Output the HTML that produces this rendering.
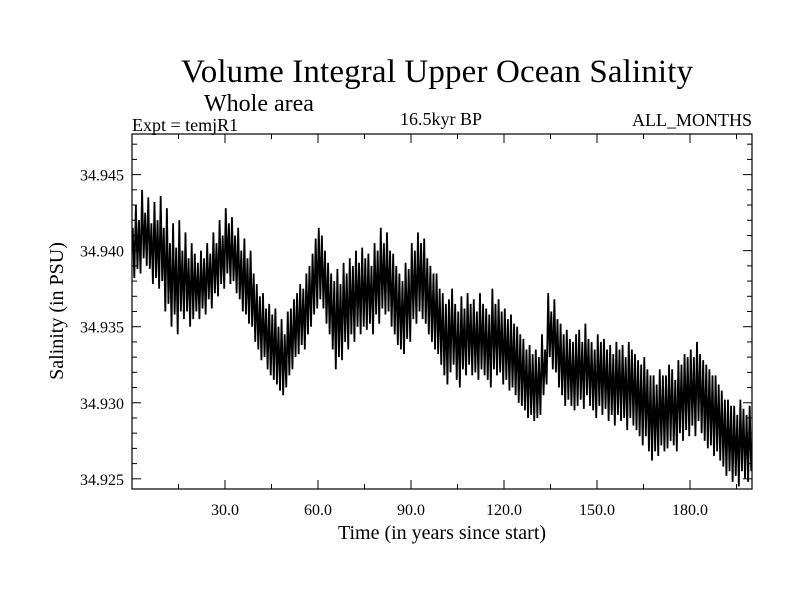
<!DOCTYPE html>
<html><head><meta charset="utf-8"><style>
body{margin:0;background:#fff}
svg text{font-family:"Liberation Serif",serif;fill:#000}
</style></head><body>
<svg id="c" width="800" height="600">
<text x="437" y="82" font-size="33" text-anchor="middle" textLength="512">Volume Integral Upper Ocean Salinity</text>
<text x="204" y="111" font-size="24">Whole area</text>
<text x="132" y="131" font-size="18">Expt = temjR1</text>
<text x="441" y="125" font-size="18" text-anchor="middle">16.5kyr BP</text>
<text x="752" y="126" font-size="18" text-anchor="end">ALL_MONTHS</text>
<text x="442" y="539" font-size="20" text-anchor="middle">Time (in years since start)</text>
<text transform="translate(63,311) rotate(-90)" font-size="20" text-anchor="middle">Salinity (in PSU)</text>
<g id="axes"></g>
<path id="series" fill="none" stroke="#000" stroke-width="1.8"/>
<rect x="132" y="134" width="620" height="355" fill="none" stroke="#000" stroke-width="1.2"/>
</svg>
<script>
const xTicks=[30,60,90,120,150,180];
const xTickLabels=["30.0","60.0","90.0","120.0","150.0","180.0"];
const yTicks=[34.925,34.930,34.935,34.940,34.945];
const yTickLabels=["34.925","34.930","34.935","34.940","34.945"];
const yearMax=[
34.9415,34.9430,34.9420,34.9440,34.9425,34.9435,34.9418,34.9432,34.9420,34.9436,34.9415,34.9428,34.9405,34.9418,34.9402,34.9420,34.9400,34.9412,34.9395,34.9405,
34.9398,34.9392,34.9400,34.9395,34.9405,34.9398,34.9412,34.9405,34.9420,34.9410,34.9428,34.9418,34.9422,34.9410,34.9415,34.9400,34.9408,34.9395,34.9400,34.9385,
34.9378,34.9370,34.9372,34.9362,34.9365,34.9358,34.9362,34.9350,34.9355,34.9345,34.9360,34.9362,34.9368,34.9372,34.9378,34.9375,34.9385,34.9390,34.9398,34.9408,
34.9415,34.9410,34.9400,34.9392,34.9385,34.9380,34.9388,34.9378,34.9392,34.9385,34.9395,34.9390,34.9400,34.9392,34.9402,34.9395,34.9398,34.9390,34.9405,34.9400,
34.9415,34.9405,34.9412,34.9400,34.9398,34.9390,34.9385,34.9380,34.9392,34.9388,34.9405,34.9400,34.9412,34.9405,34.9408,34.9395,34.9390,34.9385,34.9385,34.9375,
34.9372,34.9365,34.9368,34.9375,34.9365,34.9360,34.9370,34.9362,34.9372,34.9365,34.9368,34.9360,34.9372,34.9365,34.9362,34.9358,34.9375,34.9365,34.9368,34.9360,
34.9362,34.9355,34.9358,34.9352,34.9350,34.9345,34.9342,34.9335,34.9338,34.9332,34.9335,34.9330,34.9345,34.9335,34.9372,34.9360,34.9368,34.9355,34.9352,34.9345,
34.9348,34.9342,34.9340,34.9345,34.9348,34.9340,34.9352,34.9342,34.9340,34.9335,34.9345,34.9340,34.9342,34.9335,34.9338,34.9332,34.9340,34.9335,34.9338,34.9330,
34.9340,34.9335,34.9332,34.9328,34.9325,34.9330,34.9322,34.9318,34.9318,34.9312,34.9322,34.9318,34.9318,34.9325,34.9322,34.9315,34.9328,34.9325,34.9332,34.9330,
34.9335,34.9330,34.9340,34.9332,34.9328,34.9325,34.9322,34.9318,34.9318,34.9312,34.9308,34.9302,34.9302,34.9298,34.9298,34.9292,34.9302,34.9296,34.9292,34.9298];
const yearMin=[
34.9382,34.9388,34.9385,34.9395,34.9390,34.9388,34.9378,34.9382,34.9375,34.9380,34.9360,34.9365,34.9350,34.9358,34.9345,34.9360,34.9355,34.9360,34.9350,34.9355,
34.9360,34.9355,34.9362,34.9358,34.9368,34.9362,34.9372,34.9370,34.9378,34.9375,34.9385,34.9378,34.9380,34.9372,34.9368,34.9360,34.9358,34.9352,34.9350,34.9340,
34.9335,34.9328,34.9330,34.9322,34.9318,34.9315,34.9312,34.9308,34.9305,34.9310,34.9318,34.9322,34.9330,34.9332,34.9338,34.9335,34.9345,34.9350,34.9358,34.9362,
34.9368,34.9362,34.9352,34.9345,34.9335,34.9322,34.9330,34.9328,34.9340,34.9335,34.9345,34.9340,34.9350,34.9345,34.9350,34.9348,34.9352,34.9345,34.9358,34.9352,
34.9362,34.9358,34.9360,34.9350,34.9345,34.9338,34.9335,34.9332,34.9342,34.9340,34.9355,34.9352,34.9360,34.9355,34.9352,34.9345,34.9340,34.9335,34.9332,34.9325,
34.9318,34.9312,34.9320,34.9325,34.9315,34.9310,34.9322,34.9318,34.9325,34.9318,34.9320,34.9315,34.9322,34.9318,34.9315,34.9310,34.9322,34.9318,34.9320,34.9312,
34.9315,34.9308,34.9310,34.9305,34.9300,34.9298,34.9295,34.9290,34.9292,34.9288,34.9290,34.9292,34.9305,34.9312,34.9330,34.9322,34.9320,34.9310,34.9305,34.9298,
34.9302,34.9298,34.9295,34.9298,34.9302,34.9296,34.9305,34.9298,34.9295,34.9290,34.9298,34.9292,34.9296,34.9288,34.9292,34.9285,34.9292,34.9288,34.9290,34.9282,
34.9290,34.9285,34.9282,34.9278,34.9272,34.9278,34.9268,34.9262,34.9268,34.9265,34.9272,34.9268,34.9270,34.9275,34.9272,34.9268,34.9280,34.9275,34.9282,34.9278,
34.9285,34.9278,34.9288,34.9280,34.9275,34.9270,34.9272,34.9265,34.9268,34.9262,34.9258,34.9252,34.9255,34.9248,34.9252,34.9245,34.9255,34.9250,34.9248,34.9255];
const L=132,R=752,T=134,B=489,X0=0,X1=200,Y0=34.92433,Y1=34.94767;
const sx=v=>L+(v-X0)/(X1-X0)*(R-L);
const sy=v=>B-(v-Y0)/(Y1-Y0)*(B-T);
const ns="http://www.w3.org/2000/svg";
const g=document.getElementById('axes');
function line(x1,y1,x2,y2,name){const l=document.createElementNS(ns,'line');
l.setAttribute('x1',x1);l.setAttribute('y1',y1);l.setAttribute('x2',x2);l.setAttribute('y2',y2);
l.setAttribute('stroke','#000');l.setAttribute('stroke-width','1');


g.appendChild(l);}
function text(x,y,s,anchor,name){const t=document.createElementNS(ns,'text');
t.setAttribute('x',x);t.setAttribute('y',y);t.setAttribute('font-size','16');t.setAttribute('text-anchor',anchor);t.textContent=s;


g.appendChild(t);}
for(let v=15;v<200;v+=15){const x=sx(v);const major=v%30===0;const len=major?9:5;
line(x,B,x,B-len,'x-tick');line(x,T,x,T+len,'x-tick-top');}
for(let k=0;k<=23;k++){const v=34.925+k*0.001;if(v>Y1)break;const y=sy(v);const major=k%5===0;const len=major?9:5;
line(L,y,L+len,y,'y-tick');line(R,y,R-len,y,'y-tick-right');}
xTicks.forEach((v,i)=>text(sx(v),B+26,xTickLabels[i],'middle','x-tick-label'));
yTicks.forEach((v,i)=>text(L-8,sy(v)+6,yTickLabels[i],'end','y-tick-label'));
let d='';
yearMax.forEach((v,i)=>{d+=(i?'L':'M')+sx(i+0.25).toFixed(2)+','+sy(v).toFixed(1)+'L'+sx(i+0.75).toFixed(2)+','+sy(yearMin[i]).toFixed(1);});
document.getElementById('series').setAttribute('d',d);
</script>
</body></html>
